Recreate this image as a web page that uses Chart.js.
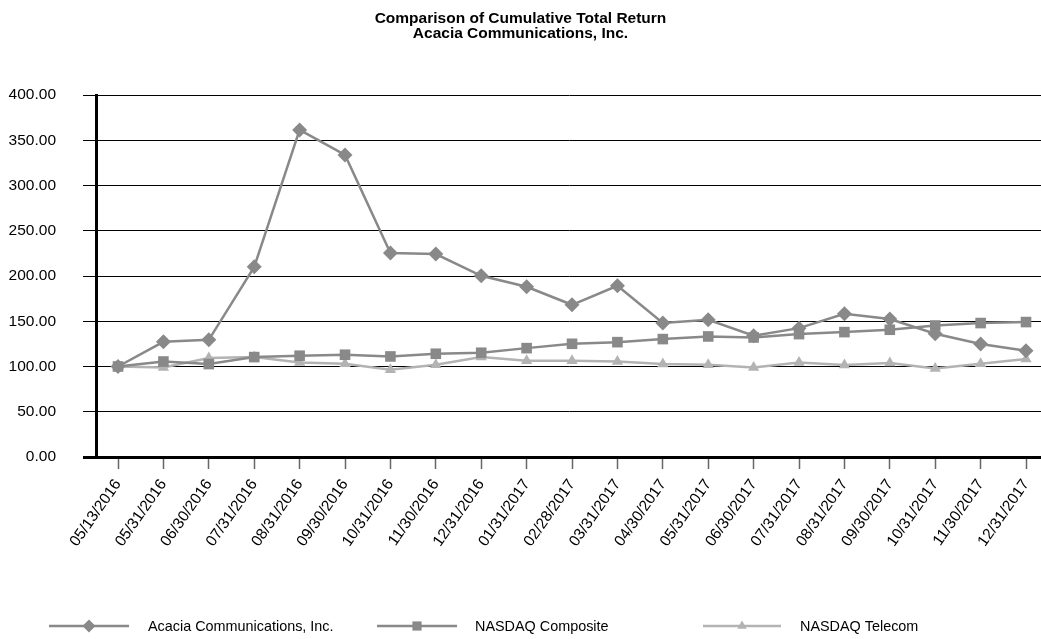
<!DOCTYPE html>
<html>
<head>
<meta charset="utf-8">
<script src="https://cdn.jsdelivr.net/npm/chart.js@4/dist/chart.umd.min.js"></script>
<style>
  html, body { margin: 0; padding: 0; background: #fff; }
  #wrap { width: 1041px; height: 639px; }
</style>
</head>
<body>
<div id="wrap"><canvas id="c" width="1041" height="639"></canvas></div>
<script>
const categories = ["05/13/2016","05/31/2016","06/30/2016","07/31/2016","08/31/2016","09/30/2016","10/31/2016","11/30/2016","12/31/2016","01/31/2017","02/28/2017","03/31/2017","04/30/2017","05/31/2017","06/30/2017","07/31/2017","08/31/2017","09/30/2017","10/31/2017","11/30/2017","12/31/2017"];
const acacia = [100, 127.3, 129.5, 210.1, 361.4, 333.8, 225.3, 224.2, 200.2, 188.1, 168.2, 189.2, 148.0, 151.6, 134.0, 142.4, 158.2, 152.4, 136.2, 124.8, 117.4];
const nasdaqComposite = [100, 105.5, 102.7, 110.4, 111.9, 113.0, 111.1, 114.1, 115.2, 120.3, 125.1, 126.9, 130.3, 133.2, 132.1, 135.8, 138.0, 140.6, 145.3, 148.0, 149.1];
const nasdaqTelecom = [100, 99.0, 109.3, 110.5, 104.5, 103.0, 96.4, 101.9, 110.4, 106.3, 106.3, 105.6, 102.7, 101.9, 99.0, 104.5, 101.6, 103.8, 97.9, 103.0, 108.2];
const seriesNames = ["Acacia Communications, Inc.", "NASDAQ Composite", "NASDAQ Telecom"];
const titleLines = ["Comparison of Cumulative Total Return", "Acacia Communications, Inc."];
const yTicks = [0, 50, 100, 150, 200, 250, 300, 350, 400];

const FONT = "'Liberation Sans', Arial, Helvetica, sans-serif";
const DARK = '#898989';
const LIGHT = '#b3b3b3';

function toPoints(arr) { return arr.map((v, i) => ({ x: i, y: v })); }

function drawMarker(ctx, style, x, y, r, color) {
  ctx.save();
  ctx.fillStyle = color;
  ctx.beginPath();
  if (style === 'rectRot') {
    ctx.moveTo(x - r, y); ctx.lineTo(x, y - r); ctx.lineTo(x + r, y); ctx.lineTo(x, y + r);
  } else if (style === 'rect') {
    const s = r * Math.SQRT1_2;
    ctx.rect(x - s, y - s, 2 * s, 2 * s);
  } else {
    ctx.moveTo(x, y - r);
    ctx.lineTo(x + r * Math.sin(2 * Math.PI / 3), y - r * Math.cos(2 * Math.PI / 3));
    ctx.lineTo(x + r * Math.sin(4 * Math.PI / 3), y - r * Math.cos(4 * Math.PI / 3));
  }
  ctx.closePath();
  ctx.fill();
  ctx.restore();
}

const legendLayout = [
  { x1: 49, x2: 129, tx: 148 },
  { x1: 377, x2: 457, tx: 475 },
  { x1: 703, x2: 781, tx: 800 }
];

const customLegend = {
  id: 'customLegend',
  afterDraw(chart) {
    const ctx = chart.ctx;
    const y = 626;
    chart.data.datasets.forEach((ds, i) => {
      const L = legendLayout[i];
      ctx.save();
      ctx.strokeStyle = ds.borderColor;
      ctx.lineWidth = 2.5;
      ctx.beginPath();
      ctx.moveTo(L.x1, y); ctx.lineTo(L.x2, y);
      ctx.stroke();
      drawMarker(ctx, ds.pointStyle, (L.x1 + L.x2) / 2, y, ds.pointStyle === 'triangle' ? 5.5 : 6.5, ds.pointBackgroundColor);
      ctx.fillStyle = '#000';
      ctx.font = '14.4px ' + FONT;
      ctx.textBaseline = 'middle';
      ctx.textAlign = 'left';
      ctx.fillText(ds.label, L.tx, y + 1);
      ctx.restore();
    });
  }
};

new Chart(document.getElementById('c'), {
  type: 'line',
  data: {
    datasets: [
      { label: seriesNames[0], data: toPoints(acacia), borderColor: DARK, backgroundColor: DARK, pointBackgroundColor: DARK, pointBorderColor: DARK, pointStyle: 'rectRot', pointRadius: 7.5, pointBorderWidth: 0, borderWidth: 2.5, tension: 0 },
      { label: seriesNames[1], data: toPoints(nasdaqComposite), borderColor: DARK, backgroundColor: DARK, pointBackgroundColor: DARK, pointBorderColor: DARK, pointStyle: 'rect', pointRadius: 7.5, pointBorderWidth: 0, borderWidth: 2.5, tension: 0 },
      { label: seriesNames[2], data: toPoints(nasdaqTelecom), borderColor: LIGHT, backgroundColor: LIGHT, pointBackgroundColor: LIGHT, pointBorderColor: LIGHT, pointStyle: 'triangle', pointRadius: 6.5, pointBorderWidth: 0, borderWidth: 2.5, tension: 0 }
    ]
  },
  options: {
    responsive: false,
    animation: false,
    layout: { autoPadding: false, padding: { top: 0, left: 0, right: 0, bottom: 62 } },
    plugins: {
      legend: { display: false },
      tooltip: { enabled: false },
      title: {
        display: true,
        text: titleLines,
        color: '#000',
        font: { family: FONT, size: 15.5, weight: 'bold', lineHeight: 15 / 15.5 },
        padding: { top: 11.5, bottom: 53.5 }
      }
    },
    scales: {
      x: {
        type: 'linear',
        min: -0.485,
        max: 20.33,
        offset: false,
        afterBuildTicks: (scale) => { scale.ticks = categories.map((_, i) => ({ value: i })); },
        afterFit: (scale) => { scale.height = 120; scale.paddingLeft = 0; scale.paddingRight = 0; },
        ticks: {
          autoSkip: false,
          minRotation: 55,
          maxRotation: 55,
          padding: 7,
          color: '#000',
          font: { family: FONT, size: 15.5 },
          callback: (v) => categories[v]
        },
        grid: { drawOnChartArea: false, drawTicks: true, tickLength: 12, tickColor: '#666', tickWidth: 1.5 },
        border: { display: true, color: '#000', width: 3 }
      },
      y: {
        min: 0,
        max: 400,
        afterBuildTicks: (scale) => { scale.ticks = yTicks.map(v => ({ value: v })); },
        afterFit: (scale) => { scale.width = 96; },
        ticks: {
          padding: 27,
          color: '#000',
          font: { family: FONT, size: 15.5 },
          callback: (v) => Number(v).toFixed(2)
        },
        grid: {
          color: '#000',
          lineWidth: (c) => (c.tick && c.tick.value === 0 ? 3 : 1),
          drawTicks: true,
          tickLength: 13,
          tickColor: '#000'
        },
        border: { display: true, color: '#000', width: 3 }
      }
    }
  },
  plugins: [customLegend]
});
</script>
</body>
</html>
